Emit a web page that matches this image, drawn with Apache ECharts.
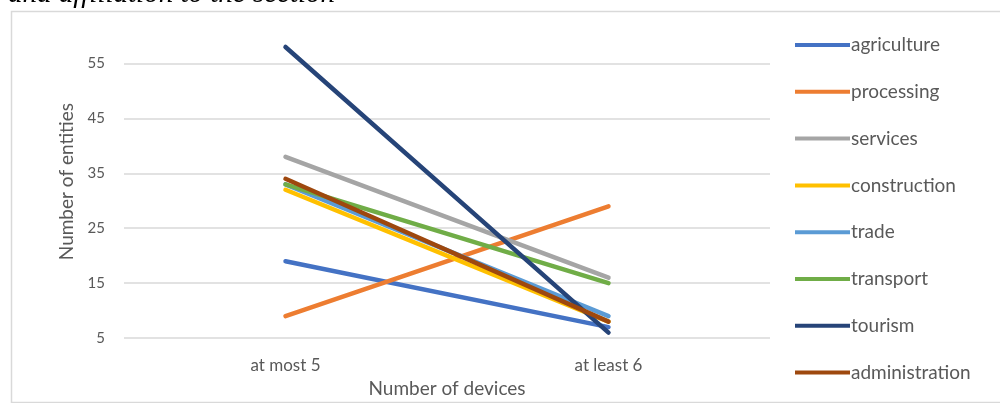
<!DOCTYPE html>
<html>
<head>
<meta charset="utf-8">
<script src="https://cdn.jsdelivr.net/npm/echarts@6/dist/echarts.min.js"></script>
<style>
  html, body { margin: 0; padding: 0; background: #ffffff; }
  #chart { width: 1000px; height: 403px; }
</style>
</head>
<body>
<div id="chart"></div>
<script>
// Number of entities by count of devices, per section
const categories = ['at most 5', 'at least 6'];
const sections = ['agriculture', 'processing', 'services', 'construction', 'trade', 'transport', 'tourism', 'administration'];
const agriculture    = [19, 7];
const processing     = [9, 29];
const services       = [38, 16];
const construction   = [32, 8];
const trade          = [33, 9];
const transport      = [33, 15];
const tourism        = [58, 6];
const administration = [34, 8];
const yTicks = [5, 15, 25, 35, 45, 55];

const values = [agriculture, processing, services, construction, trade, transport, tourism, administration];
const colors = ['#4472C4', '#ED7D31', '#A5A5A5', '#FFC000', '#5B9BD5', '#70AD47', '#264478', '#9E480E'];
const textColor = '#595959';
const font = 'Lato, "Open Sans", sans-serif';

const chart = echarts.init(document.getElementById('chart'), null, { renderer: 'canvas' });

chart.setOption({
  backgroundColor: '#ffffff',
  animation: false,
  graphic: [
    {
      type: 'rect',
      left: 9, top: 9,
      shape: { x: 0, y: 0, width: 1000, height: 391 },
      style: { fill: 'none', stroke: '#d9d9d9', lineWidth: 1.5 },
      z: -1
    },
    {
      type: 'text',
      left: 8, top: -20,
      style: {
        text: 'and affiliation to the section',
        font: 'italic 29px "Liberation Serif", "DejaVu Serif", serif',
        fill: '#000000'
      }
    }
  ],
  grid: { left: 124, right: 230, top: 25, bottom: 60 },
  legend: {
    orient: 'vertical',
    left: 790,
    top: 29,
    itemWidth: 55,
    itemHeight: 4,
    itemGap: 24.8,
    icon: 'rect',
    data: sections,
    textStyle: { color: textColor, fontFamily: font, fontSize: 19, lineHeight: 22, padding: [0, 0, 0, -4] }
  },
  xAxis: {
    type: 'category',
    data: categories,
    boundaryGap: true,
    axisLine: { show: false },
    axisTick: { show: false },
    axisLabel: { color: textColor, fontFamily: font, fontSize: 17, margin: 19 },
    name: 'Number of devices',
    nameLocation: 'middle',
    nameGap: 40,
    nameTextStyle: { color: textColor, fontFamily: font, fontSize: 19 }
  },
  yAxis: {
    type: 'value',
    min: yTicks[0],
    max: 62,
    interval: yTicks[1] - yTicks[0],
    axisLine: { show: false },
    axisTick: { show: false },
    axisLabel: { color: textColor, fontFamily: font, fontSize: 15, margin: 19, showMaxLabel: false },
    splitLine: { show: true, showMaxLine: false, lineStyle: { color: '#d9d9d9', width: 1.5 } },
    name: 'Number of entities',
    nameLocation: 'middle',
    nameGap: 44,
    nameTextStyle: { color: textColor, fontFamily: font, fontSize: 19 }
  },
  series: sections.map((name, i) => ({
    name: name,
    type: 'line',
    data: values[i],
    symbol: 'none',
    color: colors[i],
    lineStyle: { width: 4.5, color: colors[i], cap: 'round' },
    itemStyle: { color: colors[i] }
  }))
});
</script>
</body>
</html>
